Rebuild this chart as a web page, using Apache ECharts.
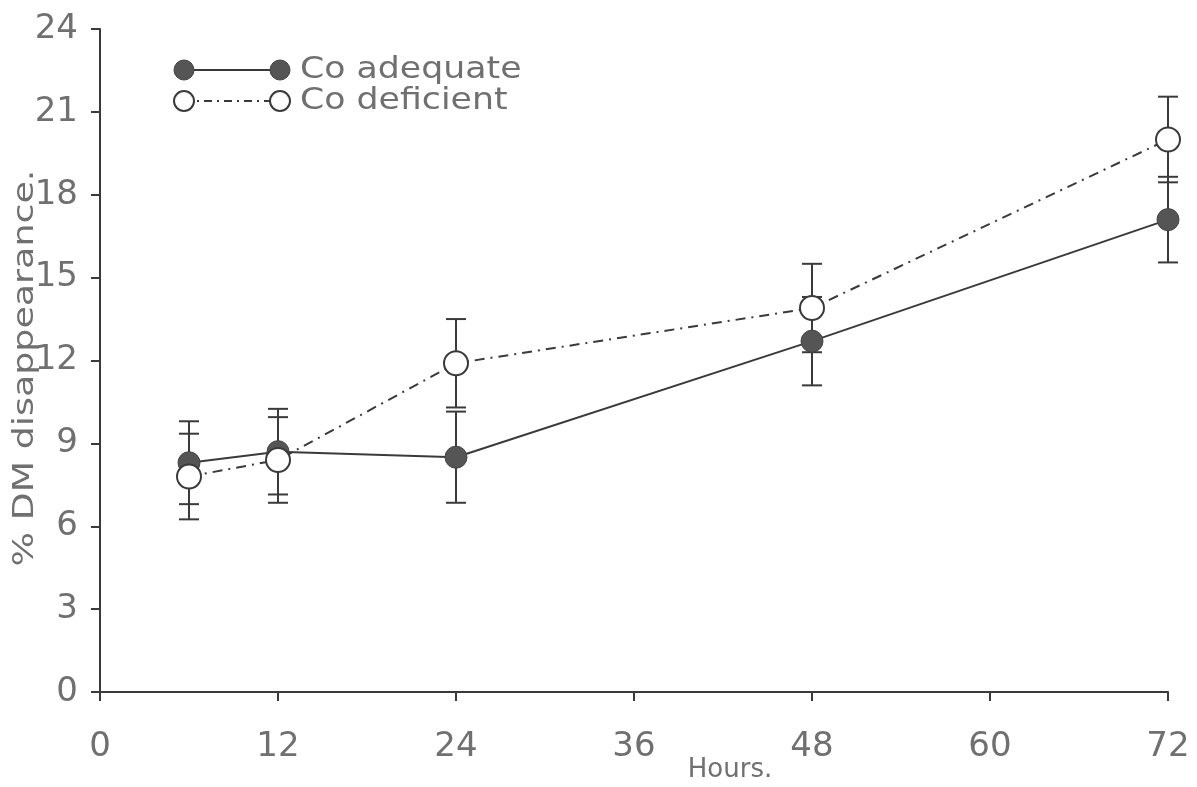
<!DOCTYPE html>
<html>
<head>
<meta charset="utf-8">
<script src="https://cdn.jsdelivr.net/npm/echarts@6/dist/echarts.min.js"></script>
<style>
  html, body { margin: 0; padding: 0; background: #ffffff; }
  #chart { width: 1197px; height: 787px; }
</style>
</head>
<body>
<div id="chart"></div>
<script>
// Sampling times (hours) and mean % DM disappearance with error-bar half-widths
const hours = [6, 12, 24, 48, 72];
const adequate = [8.3, 8.7, 8.5, 12.7, 17.1];
const adequateErr = [1.5, 1.55, 1.65, 1.6, 1.55];
const deficient = [7.8, 8.4, 11.9, 13.9, 20.0];
const deficientErr = [1.55, 1.55, 1.6, 1.6, 1.55];

const xTicks = { min: 0, max: 72, interval: 12 };
const yTicks = { min: 0, max: 24, interval: 3 };

const ink = '#3a3a3a';
const labelColor = '#707070';
const font = 'DejaVu Sans';

function pairs(vals) { return hours.map((h, i) => [h, vals[i]]); }
function bars(vals, errs) { return hours.map((h, i) => [h, vals[i] - errs[i], vals[i] + errs[i]]); }

function errorBar(params, api) {
  const x = api.value(0);
  const lo = api.coord([x, api.value(1)]);
  const hi = api.coord([x, api.value(2)]);
  const half = 10;
  const style = { stroke: ink, lineWidth: 2 };
  return {
    type: 'group',
    children: [
      { type: 'line', shape: { x1: lo[0], y1: lo[1], x2: hi[0], y2: hi[1] }, style },
      { type: 'line', shape: { x1: hi[0] - half, y1: hi[1], x2: hi[0] + half, y2: hi[1] }, style },
      { type: 'line', shape: { x1: lo[0] - half, y1: lo[1], x2: lo[0] + half, y2: lo[1] }, style }
    ]
  };
}

const chart = echarts.init(document.getElementById('chart'));

// Legend drawn as marker–line–marker rows, plus the axis titles
const legendRows = [
  { y: 70, text: 'Co adequate', filled: true, dash: null },
  { y: 101, text: 'Co deficient', filled: false, dash: [8, 5, 2, 5] }
];
const overlay = [];
legendRows.forEach(r => {
  const markerStyle = r.filled
    ? { fill: '#555555', stroke: '#444444', lineWidth: 1 }
    : { fill: '#ffffff', stroke: ink, lineWidth: 2 };
  overlay.push(
    { type: 'line', shape: { x1: 184, y1: r.y, x2: 280, y2: r.y },
      style: { stroke: ink, lineWidth: 2, lineDash: r.dash }, z: 10 },
    { type: 'circle', shape: { cx: 184, cy: r.y, r: 10 }, style: markerStyle, z: 11 },
    { type: 'circle', shape: { cx: 280, cy: r.y, r: 10 }, style: markerStyle, z: 11 },
    { type: 'text', x: 300, y: r.y, scaleX: 1.12, style: { text: r.text, fill: labelColor,
      font: '31px "' + font + '"', verticalAlign: 'middle' }, z: 11 }
  );
});
overlay.push(
  {
    type: 'text', x: 26, y: 368, rotation: Math.PI / 2, scaleX: 1.3,
    style: { text: '% DM disappearance.', fill: labelColor, font: '28px "' + font + '"',
      align: 'center', verticalAlign: 'middle' }, z: 11
  },
  {
    type: 'text', x: 730, y: 770,
    style: { text: 'Hours.', fill: labelColor, font: '26px "' + font + '"',
      align: 'center', verticalAlign: 'middle' }, z: 11
  }
);

chart.setOption({
  animation: false,
  backgroundColor: '#ffffff',
  grid: { left: 100, right: 29, top: 29, bottom: 95, containLabel: false, outerBoundsMode: 'none' },
  xAxis: {
    type: 'value', min: xTicks.min, max: xTicks.max, interval: xTicks.interval,
    axisLine: { show: true, lineStyle: { color: ink, width: 2 } },
    axisTick: { show: true, length: 9, lineStyle: { color: ink, width: 2 } },
    axisLabel: { color: labelColor, fontFamily: font, fontSize: 34, margin: 38 },
    splitLine: { show: false }
  },
  yAxis: {
    type: 'value', min: yTicks.min, max: yTicks.max, interval: yTicks.interval,
    axisLine: { show: true, lineStyle: { color: ink, width: 2 } },
    axisTick: { show: true, length: 9, lineStyle: { color: ink, width: 2 } },
    axisLabel: { color: labelColor, fontFamily: font, fontSize: 34, margin: 22 },
    splitLine: { show: false }
  },
  graphic: overlay,
  series: [
    {
      name: 'Co adequate (SE)', type: 'custom', renderItem: errorBar,
      data: bars(adequate, adequateErr), z: 3, silent: true
    },
    {
      name: 'Co deficient (SE)', type: 'custom', renderItem: errorBar,
      data: bars(deficient, deficientErr), z: 3, silent: true
    },
    {
      name: 'Co adequate', type: 'line', data: pairs(adequate),
      symbol: 'circle', symbolSize: 22,
      lineStyle: { color: ink, width: 2, type: 'solid' },
      itemStyle: { color: '#555555', borderColor: '#444444', borderWidth: 1 },
      z: 5
    },
    {
      name: 'Co deficient', type: 'line', data: pairs(deficient),
      symbol: 'circle', symbolSize: 24,
      lineStyle: { color: ink, width: 2, type: [10, 6, 2, 6] },
      itemStyle: { color: '#ffffff', borderColor: ink, borderWidth: 2 },
      z: 6
    }
  ]
});
</script>
</body>
</html>
